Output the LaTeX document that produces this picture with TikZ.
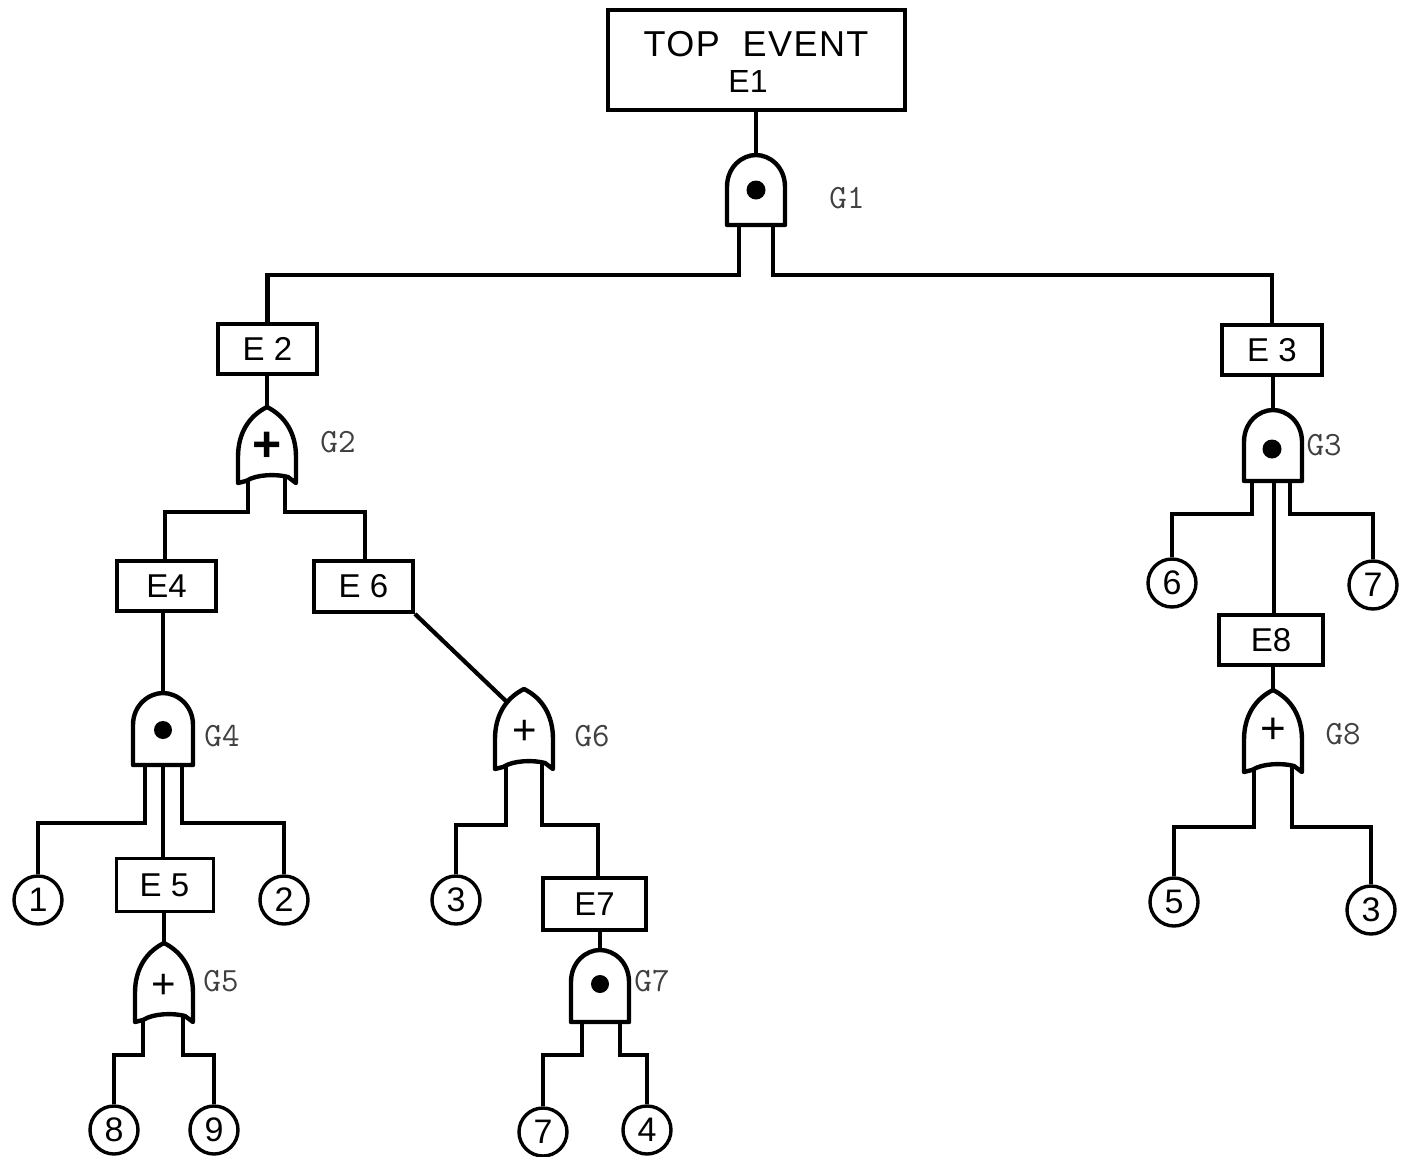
\documentclass[tikz,border=0pt]{standalone}
\usepackage{fontspec}
\setmainfont{Liberation Sans}
\usetikzlibrary{calc}
\tikzset{
  wire/.style={line width=2.1pt,line join=miter,line cap=butt},
  gateline/.style={line width=2.2pt,line join=round},
  evbox/.style 2 args={draw,line width=1.9pt,inner sep=0pt,minimum width=#1*0.5pt,minimum height=#2*0.5pt,align=center,font=\fontsize{16.5}{18}\selectfont},
  basic/.style={draw,circle,line width=1.7pt,inner sep=0pt,minimum size=24pt,font=\fontsize{17}{18}\selectfont},
  glabel/.style={inner sep=0pt,font=\ttfamily\fontsize{17}{20}\selectfont,text=black!75},
  gatesym/.style={inner sep=0pt,font=\fontsize{#1}{#1}\selectfont},
  dotsym/.style={circle,fill=black,inner sep=0pt,minimum size=#1*1pt}
}
% name, cx, top, bottom, half width, left leg, right leg
\newcommand{\andshape}[7]{%
  \draw[gateline] (#2-#5,#4) -- (#2+#5,#4) -- (#2+#5,#3+32)
    .. controls (#2+#5,#3+12) and (#2+14,#3) .. (#2,#3)
    .. controls (#2-14,#3) and (#2-#5,#3+12) .. (#2-#5,#3+32) -- cycle;
  \coordinate (#1-t) at (#2,#3);
  \coordinate (#1-l) at (#6,#4);
  \coordinate (#1-r) at (#7,#4);
}
\newcommand{\orshape}[7]{%
  \draw[gateline] (#2,#3)
    .. controls (#2+18,#3+9) and (#2+#5,#3+26) .. (#2+#5,#3+50)
    -- (#2+#5,#4) -- (#2+#5-8,#4-6)
    .. controls (#2+10,#4-9) and (#2-10,#4-9) .. (#2-#5+8,#4-2)
    -- (#2-#5,#4)
    -- (#2-#5,#3+50)
    .. controls (#2-#5,#3+26) and (#2-18,#3+9) .. (#2,#3) -- cycle;
  \coordinate (#1-t) at (#2,#3);
  \coordinate (#1-s) at (#2-16,#3+14);
  \coordinate (#1-l) at (#6,#4-3);
  \coordinate (#1-r) at (#7,#4-5);
}
\begin{document}
\begin{tikzpicture}[x=0.5pt,y=-0.5pt]
\useasboundingbox (0,0) rectangle (1404,1157);

% event boxes
\node[evbox={297}{100},line width=2.1pt] (e1) at (756.5,60) {};
\node[font=\addfontfeature{LetterSpace=4}\fontsize{18}{18}\selectfont,inner sep=0pt] (t1) at (756,44) {TOP\ \ EVENT};
\node[font=\fontsize{16}{16}\selectfont,inner sep=0pt] (t2) at (748,81) {E1};
\node[evbox={99}{50}] (e2) at (267.5,349) {E 2};
\node[evbox={100}{50}] (e3) at (1272,350) {E 3};
\node[evbox={99}{50}] (e4) at (166.5,586) {E4};
\node[evbox={99}{51}] (e6) at (363.5,586.5) {E 6};
\node[evbox={97}{53},line width=1.5pt] (e5) at (164.5,885) {E 5};
\node[evbox={103}{52}] (e7) at (594.5,904) {E7};
\node[evbox={104}{50}] (e8) at (1271,640) {E8};

% gates
\andshape{g1}{756}{155}{225}{29}{739}{773}
\orshape{g2}{267}{407}{483}{29}{248}{285}
\andshape{g3}{1273}{410}{481}{29}{1252}{1290}
\andshape{g4}{163}{693}{765}{30}{145}{182}
\orshape{g5}{164}{943}{1022}{29}{143}{183}
\orshape{g6}{524}{689}{769}{29}{506}{542}
\andshape{g7}{600}{950}{1022}{29}{582}{620}
\orshape{g8}{1273}{690}{772}{29}{1254}{1292}

% gate symbols
\node[gatesym=25,font=\bfseries\fontsize{25}{25}\selectfont] (s2) at (267,447) {+};
\node[dotsym=9.5] (s1) at (756,190) {};
\node[dotsym=9.5] (s3) at (1272,449) {};
\node[dotsym=9] (s4) at (163,730) {};
\node[gatesym=21] (s5) at (164,986) {+};
\node[gatesym=21] (s6) at (525,732) {+};
\node[dotsym=9] (s7) at (600,984) {};
\node[gatesym=22] (s8) at (1273,731) {+};

% gate labels
\node[glabel] (l1) at (847,198) {G1};
\node[glabel] (l2) at (338,442) {G2};
\node[glabel] (l3) at (1324,445) {G3};
\node[glabel] (l4) at (222,736) {G4};
\node[glabel] (l5) at (221,981) {G5};
\node[glabel] (l6) at (592,736) {G6};
\node[glabel] (l7) at (652,981) {G7};
\node[glabel] (l8) at (1343,734) {G8};

% basic events
\node[basic] (b1) at (38,900) {1};
\node[basic] (b2) at (284,900) {2};
\node[basic] (b3a) at (456,900) {3};
\node[basic] (b7a) at (543,1132) {7};
\node[basic] (b4) at (647,1130) {4};
\node[basic] (b8) at (114,1130) {8};
\node[basic] (b9) at (214,1130) {9};
\node[basic] (b6) at (1172,583) {6};
\node[basic] (b7b) at (1373,585) {7};
\node[basic] (b5) at (1174,902) {5};
\node[basic] (b3b) at (1371,910) {3};

% connectors
\draw[wire] (g1-t |- e1.south) -- (g1-t);
\draw[wire] (g1-l) -- ++(0,50) -| (e2.north);
\draw[wire] (g1-r) -- ++(0,50) -| (e3.north);

\draw[wire] (g2-t |- e2.south) -- (g2-t);
\draw[wire] (g2-l) -- ++(0,32) -| ([xshift=-0.7pt]e4.north);
\draw[wire] (g2-r) -- ++(0,34) -| ([xshift=0.7pt]e6.north);

\draw[wire] (g3-t |- e3.south) -- (g3-t);
\draw[wire] (g3-l) -- ++(0,33) -| (b6.north);
\draw[wire] (g3-r) -- ++(0,33) -| (b7b.north);
\draw[wire] (1274,481) coordinate (g3-m) -- (g3-m |- e8.north);
\draw[wire] (e8.south -| g8-t) -- (g8-t);

\draw[wire] (g4-t |- e4.south) -- (g4-t);
\draw[wire] (g4-l) -- ++(0,58) -| (b1.north);
\draw[wire] (g4-r) -- ++(0,58) -| (b2.north);
\draw[wire] (163,765) coordinate (g4-m) -- (g4-m |- e5.north);
\draw[wire] (e5.south -| g5-t) -- (g5-t);

\draw[wire] (e6.south east) -- (g6-s);
\draw[wire] (g6-l) -- ++(0,59) -| (b3a.north);
\draw[wire] (g6-r) -- ++(0,61) -| ([xshift=1.8pt]e7.north);
\draw[wire] (g7-t |- e7.south) -- (g7-t);

\draw[wire] (g5-l) -- ++(0,36) -| (b8.north);
\draw[wire] (g5-r) -- ++(0,38) -| (b9.north);
\draw[wire] (g7-l) -- ++(0,33) -| (b7a.north);
\draw[wire] (g7-r) -- ++(0,33) -| (b4.north);
\draw[wire] (g8-l) -- ++(0,58) -| (b5.north);
\draw[wire] (g8-r) -- ++(0,60) -| (b3b.north);
\end{tikzpicture}
\end{document}
